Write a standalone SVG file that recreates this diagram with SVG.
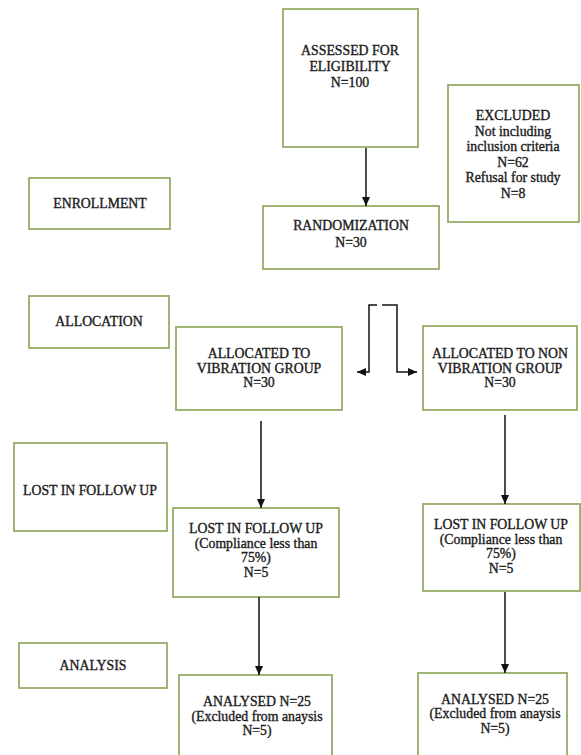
<svg xmlns="http://www.w3.org/2000/svg" width="581" height="755" viewBox="0 0 581 755">
<style>
.box{fill:#ffffff;stroke:#96ad66;stroke-width:1.8}
.t{font-family:"Liberation Serif","Times New Roman",serif;font-size:13.8px;fill:#1a1a1a;stroke:#1a1a1a;stroke-width:0.35;text-anchor:middle}
.c{fill:none;stroke:#111111;stroke-width:1.5}
</style>
<defs>
<marker id="ah" markerUnits="userSpaceOnUse" markerWidth="9" markerHeight="9" viewBox="0 0 9 9" refX="9" refY="4.5" orient="auto">
<path d="M0,0.5 L9,4.5 L0,8.5 Z" fill="#111111"/>
</marker>
</defs>
<rect width="581" height="755" fill="#ffffff"/>
<g id="assessed">
<rect class="box" x="283" y="9" width="135" height="138"/>
<text class="t" x="350" y="54.5">ASSESSED FOR</text>
<text class="t" x="350" y="70.5">ELIGIBILITY</text>
<text class="t" x="350" y="86.5">N=100</text>
</g>
<g id="excluded">
<rect class="box" x="448" y="85" width="131" height="137"/>
<text class="t" x="513" y="120">EXCLUDED</text>
<text class="t" x="513" y="135.5">Not including</text>
<text class="t" x="513" y="151">inclusion criteria</text>
<text class="t" x="513" y="166.5">N=62</text>
<text class="t" x="513" y="182">Refusal for study</text>
<text class="t" x="513" y="197.5">N=8</text>
</g>
<g id="enrollment">
<rect class="box" x="29" y="178" width="141" height="51"/>
<text class="t" x="100" y="207.5">ENROLLMENT</text>
</g>
<g id="randomization">
<rect class="box" x="263" y="206" width="176" height="63"/>
<text class="t" x="351" y="229.5">RANDOMIZATION</text>
<text class="t" x="351" y="246.5">N=30</text>
</g>
<g id="allocation">
<rect class="box" x="29" y="296" width="140" height="52"/>
<text class="t" x="99" y="325.5">ALLOCATION</text>
</g>
<g id="alloc-vib">
<rect class="box" x="176" y="327" width="166" height="83"/>
<text class="t" x="259" y="358">ALLOCATED TO</text>
<text class="t" x="259" y="372.5">VIBRATION GROUP</text>
<text class="t" x="259" y="387">N=30</text>
</g>
<g id="alloc-nonvib">
<rect class="box" x="423" y="326" width="154" height="84"/>
<text class="t" x="500" y="358">ALLOCATED TO NON</text>
<text class="t" x="500" y="372.5">VIBRATION GROUP</text>
<text class="t" x="500" y="387">N=30</text>
</g>
<g id="lost-label">
<rect class="box" x="14" y="443" width="153" height="88"/>
<text class="t" x="90" y="494.5">LOST IN FOLLOW UP</text>
</g>
<g id="lost-vib">
<rect class="box" x="173" y="508" width="166" height="89"/>
<text class="t" x="256" y="533">LOST IN FOLLOW UP</text>
<text class="t" x="256" y="547.5">(Compliance less than</text>
<text class="t" x="256" y="562">75%)</text>
<text class="t" x="256" y="576.5">N=5</text>
</g>
<g id="lost-nonvib">
<rect class="box" x="423" y="504" width="157" height="87"/>
<text class="t" x="501" y="529">LOST IN FOLLOW UP</text>
<text class="t" x="501" y="543.5">(Compliance less than</text>
<text class="t" x="501" y="558">75%)</text>
<text class="t" x="501" y="572.5">N=5</text>
</g>
<g id="analysis">
<rect class="box" x="19" y="643" width="148" height="45"/>
<text class="t" x="93" y="669.5">ANALYSIS</text>
</g>
<g id="analysed-vib">
<rect class="box" x="179" y="675" width="153" height="100"/>
<text class="t" x="257" y="705.5">ANALYSED N=25</text>
<text class="t" x="257" y="720.5">(Excluded from anaysis</text>
<text class="t" x="257" y="735">N=5)</text>
</g>
<g id="analysed-nonvib">
<rect class="box" x="418" y="673" width="149" height="100"/>
<text class="t" x="495" y="703.5">ANALYSED N=25</text>
<text class="t" x="495" y="718">(Excluded from anaysis</text>
<text class="t" x="495" y="732.5">N=5)</text>
</g>
<g id="connectors">
<line class="c" x1="366" y1="148" x2="366" y2="206" marker-end="url(#ah)"/>
<path class="c" d="M377,305 H369 V372 H357" marker-end="url(#ah)"/>
<path class="c" d="M382,305 H397 V372 H417" marker-end="url(#ah)"/>
<line class="c" x1="261" y1="421" x2="261" y2="508" marker-end="url(#ah)"/>
<line class="c" x1="505" y1="415" x2="505" y2="504" marker-end="url(#ah)"/>
<line class="c" x1="259" y1="597" x2="259" y2="675" marker-end="url(#ah)"/>
<line class="c" x1="505" y1="592" x2="505" y2="673" marker-end="url(#ah)"/>
</g>
</svg>
